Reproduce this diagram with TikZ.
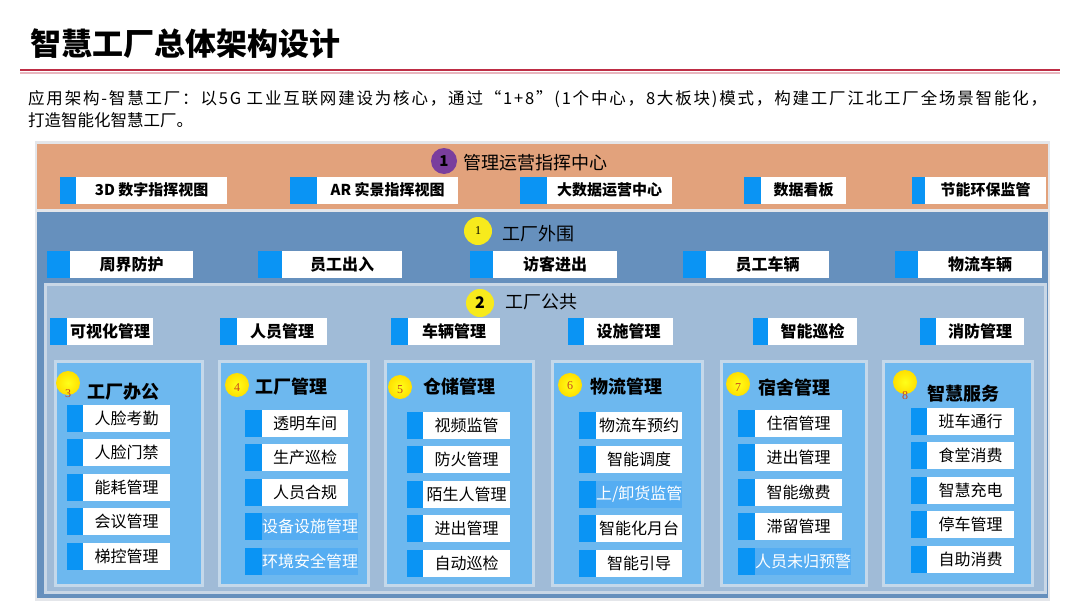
\documentclass[tikz,border=0pt]{standalone}
\usepackage{fontspec}
\setmainfont{Noto Sans CJK SC}
\newfontfamily\serifrakam{Liberation Serif}
\newfontfamily\genisYazi[LetterSpace=11]{Noto Sans CJK SC}
\usepackage{tikz}
\definecolor{turuncuBant}{HTML}{E2A27C}
\definecolor{celikMavi}{HTML}{6690BD}
\definecolor{acikPanel}{HTML}{A0BBD7}
\definecolor{panelKenar}{HTML}{C9D7E6}
\definecolor{gokMavi}{HTML}{6DB8EF}
\definecolor{sutunKenar}{HTML}{C4D8EA}
\definecolor{sekmeMavi}{HTML}{0A94F4}
\definecolor{solukMavi}{HTML}{55ADF2}
\definecolor{kirmiziCizgi}{HTML}{BE2D45}
\definecolor{morTop}{HTML}{7A3E9D}
\definecolor{sariTop}{HTML}{F7EA1C}
\definecolor{rakamKirmizi}{HTML}{C8461E}
\definecolor{cerceveGri}{HTML}{E4E6EA}
% #1 kutu stili, #2 ad, #3 sekme basi, #4 sekme sonu, #5 kutu sonu, #6 y, #7 metin
\newcommand{\modul}[7][beyazKutu]{%
  \fill[sekmeMavi] ({#3},{#6-13.5}) rectangle ({#4},{#6+13.5});
  \node[#1, minimum width={#5pt-#4pt}, anchor=west] (#2) at ({#4},{#6}) {#7};}
% #1 no, #2-#3 panel x, #4-#5 top, #6 rakam y, #7-#8 baslik, #9 metin
\newcommand{\sutunCiz}[9]{%
  \draw[sutunKenar, line width=3, fill=gokMavi] (#2,361) rectangle (#3,585);
  \node[sariBlob] (top#1) at (#4,#5) {};
  \node[rakam] (no#1) at (#4,#6) {#1};
  \node[sutunBaslik, anchor=west] (bas#1) at (#7,#8) {#9};}

\begin{document}
\begin{tikzpicture}[x=1pt,y=-1pt,
  beyazKutu/.style={fill=white, minimum height=27, inner sep=0, font=\fontsize{16}{16}\selectfont},
  ustKutu/.style={beyazKutu, font=\fontsize{15}{15}\selectfont\bfseries},
  ortaKutu/.style={beyazKutu, font=\fontsize{16}{16}\selectfont\bfseries},
  solukKutu/.style={beyazKutu, fill=solukMavi, text=white},
  bolumBaslik/.style={inner sep=0, font=\fontsize{18}{18}\selectfont},
  sutunBaslik/.style={inner sep=0, font=\fontsize{18}{18}\selectfont\bfseries},
  sariBlob/.style={circle, minimum size=24, inner sep=0, inner color=yellow!90!white, outer color=yellow!75!orange},
  rakam/.style={inner sep=0, text=rakamKirmizi, font=\serifrakam\fontsize{12}{12}\selectfont}]
\useasboundingbox (0,0) rectangle (1080,608);
\fill[white] (0,0) rectangle (1080,608);
% baslik ve aciklama
\node[anchor=west, inner sep=0, font=\fontsize{31}{31}\selectfont\bfseries] (baslik) at (30,44) {智慧工厂总体架构设计};
\draw[kirmiziCizgi!35, line width=2] (20,72.5) -- (1060,72.5);
\draw[kirmiziCizgi, line width=2] (20,70) -- (1060,70);
\node[anchor=west, inner sep=0, font=\genisYazi\fontsize{16.5}{16.5}\selectfont] (acik1) at (28,99) {应用架构-智慧工厂：以5G 工业互联网建设为核心，通过“1+8”(1个中心，8大板块)模式，构建工厂江北工厂全场景智能化，};
\node[anchor=west, inner sep=0, font=\fontsize{16.5}{16.5}\selectfont] (acik2) at (28,120) {打造智能化智慧工厂。};
% bantlar
\fill[cerceveGri] (35,141) rectangle (1050,601);
\fill[turuncuBant] (37,144) rectangle (1048,209);
\fill[celikMavi] (37,212) rectangle (1048,598);
\draw[panelKenar, line width=3, fill=acikPanel] (45,284) rectangle (1045,592);
% 1 管理运营指挥中心
\node[circle, fill=morTop, minimum size=26, inner sep=0, font=\fontsize{15}{15}\selectfont\bfseries] (mor1) at (444,161) {1};
\node[bolumBaslik, anchor=west] (merkez) at (463,163) {管理运营指挥中心};
\modul[ustKutu]{mc1}{60}{76}{227}{190}{3D 数字指挥视图}
\modul[ustKutu]{mc2}{290}{317}{458}{190}{AR 实景指挥视图}
\modul[ustKutu]{mc3}{520}{547}{672}{190}{大数据运营中心}
\modul[ustKutu]{mc4}{744}{761}{846}{190}{数据看板}
\modul[ustKutu]{mc5}{912}{925}{1046}{190}{节能环保监管}
% 工厂外围
\node[circle, fill=sariTop, minimum size=28, inner sep=0, font=\serifrakam\fontsize{12}{12}\selectfont] (sari1) at (478,231) {1};
\node[bolumBaslik, anchor=west] (dis) at (502,234) {工厂外围};
\modul[ortaKutu]{dc1}{47}{70}{193}{264}{周界防护}
\modul[ortaKutu]{dc2}{258}{282}{402}{264}{员工出入}
\modul[ortaKutu]{dc3}{470}{493}{617}{264}{访客进出}
\modul[ortaKutu]{dc4}{683}{706}{829}{264}{员工车辆}
\modul[ortaKutu]{dc5}{895}{918}{1042}{264}{物流车辆}
% 工厂公共
\node[circle, fill=sariTop, minimum size=28, inner sep=0, font=\fontsize{16}{16}\selectfont\bfseries] (sari2) at (480,303) {2};
\node[bolumBaslik, anchor=west] (ortak) at (505,302) {工厂公共};
\modul[ortaKutu]{kc1}{50}{67}{153}{331}{可视化管理}
\modul[ortaKutu]{kc2}{220}{237}{327}{331}{人员管理}
\modul[ortaKutu]{kc3}{391}{408}{500}{331}{车辆管理}
\modul[ortaKutu]{kc4}{568}{584}{673}{331}{设施管理}
\modul[ortaKutu]{kc5}{753}{768}{857}{331}{智能巡检}
\modul[ortaKutu]{kc6}{920}{936}{1024}{331}{消防管理}
% 8 sutun
\sutunCiz{3}{55}{202}{68}{383}{394}{87}{392}{工厂办公}
\sutunCiz{4}{219}{368}{237}{385}{388}{255}{387}{工厂管理}
\sutunCiz{5}{385}{533}{400}{387}{390}{423}{387}{仓储管理}
\sutunCiz{6}{552}{702}{570}{385}{386}{590}{387}{物流管理}
\sutunCiz{7}{721}{866}{738}{384}{388}{758}{388}{宿舍管理}
\sutunCiz{8}{883}{1032}{905}{382}{396}{927}{394}{智慧服务}
\foreach \i/\ad in {1/人脸考勤,2/人脸门禁,3/能耗管理,4/会议管理,5/梯控管理}
  {\modul{s3-\i}{67}{83}{170}{418+(\i-1)*34.5}{\ad}}
\foreach \i/\ad in {1/透明车间,2/生产巡检,3/人员合规}
  {\modul{s4-\i}{245}{262}{348}{423+(\i-1)*34.5}{\ad}}
\modul[solukKutu]{s4-4}{245}{262}{348}{526.5}{设备设施管理}
\modul[solukKutu]{s4-5}{245}{262}{348}{561}{环境安全管理}
\foreach \i/\ad in {1/视频监管,2/防火管理,3/陌生人管理,4/进出管理,5/自动巡检}
  {\modul{s5-\i}{407}{423}{510}{425+(\i-1)*34.5}{\ad}}
\foreach \i/\ad in {1/物流车预约,2/智能调度,4/智能化月台,5/智能引导}
  {\modul{s6-\i}{579}{596}{682}{425+(\i-1)*34.5}{\ad}}
\modul[solukKutu]{s6-3}{579}{596}{682}{494}{上/卸货监管}
\foreach \i/\ad in {1/住宿管理,2/进出管理,3/智能缴费,4/滞留管理}
  {\modul{s7-\i}{738}{755}{842}{423+(\i-1)*34.5}{\ad}}
\modul[solukKutu]{s7-5}{738}{755}{842}{561}{人员未归预警}
\foreach \i/\ad in {1/班车通行,2/食堂消费,3/智慧充电,4/停车管理,5/自助消费}
  {\modul{s8-\i}{911}{927}{1014}{421+(\i-1)*34.5}{\ad}}
\end{tikzpicture}
\end{document}
